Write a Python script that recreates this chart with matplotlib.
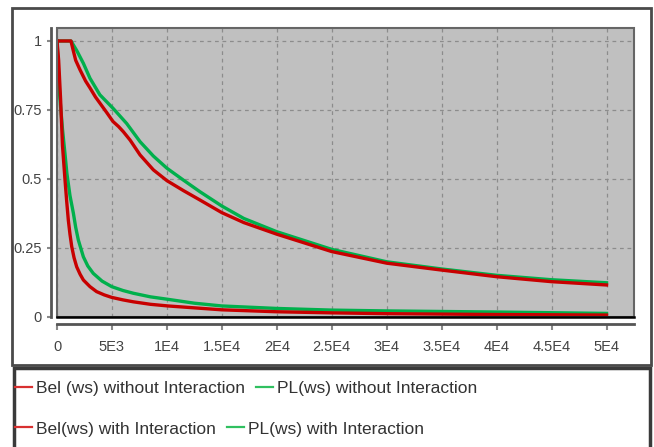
import matplotlib
matplotlib.use("Agg")
import matplotlib.pyplot as plt
from matplotlib.patches import Rectangle
from matplotlib.lines import Line2D

# ---- data ----
bel_wo_x = [0, 1270, 1450, 1700, 2100, 2600, 3000, 3500, 3900, 4500, 5100, 5600, 6040, 6650, 7560, 8770, 10000, 11500, 13000, 15000, 17000, 20000, 25000, 30000, 35000, 40000, 45000, 50000]
bel_wo_y = [1, 1, 0.97, 0.93, 0.895, 0.855, 0.83, 0.797, 0.775, 0.742, 0.708, 0.69, 0.671, 0.641, 0.587, 0.533, 0.494, 0.458, 0.424, 0.378, 0.342, 0.300, 0.237, 0.195, 0.170, 0.146, 0.128, 0.116]

pl_wo_x = [0, 1270, 1500, 1800, 2400, 3000, 3900, 5100, 6340, 7560, 8770, 10000, 11500, 13000, 15000, 17000, 20000, 25000, 30000, 35000, 40000, 45000, 50000]
pl_wo_y = [1, 1, 0.985, 0.965, 0.919, 0.865, 0.805, 0.756, 0.701, 0.635, 0.583, 0.539, 0.496, 0.454, 0.402, 0.357, 0.309, 0.245, 0.200, 0.174, 0.151, 0.135, 0.124]

bel_w_x = [0, 150, 330, 500, 730, 880, 1030, 1180, 1340, 1550, 1790, 2100, 2400, 3000, 3600, 4300, 4980, 6000, 6950, 8500, 10100, 15000, 20000, 25000, 30000, 40000, 50000]
bel_w_y = [1, 0.93, 0.786, 0.62, 0.496, 0.42, 0.351, 0.30, 0.255, 0.215, 0.182, 0.155, 0.134, 0.110, 0.092, 0.080, 0.071, 0.062, 0.055, 0.046, 0.040, 0.026, 0.019, 0.015, 0.012, 0.009, 0.007]

pl_w_x = [0, 250, 500, 730, 900, 1180, 1490, 1700, 1940, 2400, 2800, 3300, 4100, 4980, 6000, 6950, 8500, 10100, 12500, 15000, 20000, 25000, 30000, 40000, 50000]
pl_w_y = [1, 0.80, 0.68, 0.59, 0.52, 0.44, 0.376, 0.325, 0.279, 0.218, 0.185, 0.158, 0.130, 0.110, 0.096, 0.086, 0.073, 0.064, 0.050, 0.040, 0.031, 0.025, 0.022, 0.018, 0.013]

x_ticks = [0, 5000, 10000, 15000, 20000, 25000, 30000, 35000, 40000, 45000, 50000]
x_tick_labels = ["0", "5E3", "1E4", "1.5E4", "2E4", "2.5E4", "3E4", "3.5E4", "4E4", "4.5E4", "5E4"]
y_ticks = [0, 0.25, 0.5, 0.75, 1]
y_tick_labels = ["0", "0.25", "0.5", "0.75", "1"]

labels = ["Bel (ws) without Interaction", "PL(ws) without Interaction",
          "Bel(ws) with Interaction", "PL(ws) with Interaction"]

RED = "#C80000"
GREEN = "#00B04C"
FONT = ["Liberation Sans", "DejaVu Sans"]
plt.rcParams["font.family"] = FONT

W, H = 654, 447
fig = plt.figure(figsize=(W / 100, H / 100), dpi=100)
fig.patch.set_facecolor("white")

def fx(px):
    return px / W

def fy(py):
    return 1 - py / H

# outer chart panel frame
fig.add_artist(Rectangle((fx(12), fy(365)), fx(651) - fx(12), fy(8) - fy(365),
                         transform=fig.transFigure, fill=False, edgecolor="#4a4a4a", lw=2))
# legend frame
fig.add_artist(Rectangle((fx(14), fy(449)), fx(650) - fx(14), fy(368) - fy(449),
                         transform=fig.transFigure, fill=False, edgecolor="#3a3a3a", lw=2.5))

ax = fig.add_axes([fx(57), fy(317), fx(634) - fx(57), fy(28) - fy(317)])
ax.set_facecolor("#C0C0C0")
ax.set_xlim(0, 52500)
ax.set_ylim(0, 1.047)

lw = 2.4
ax.plot(bel_wo_x, bel_wo_y, color=RED, lw=lw, zorder=4)
ax.plot(pl_wo_x, pl_wo_y, color=GREEN, lw=lw, zorder=3)
ax.plot(bel_w_x, bel_w_y, color=RED, lw=lw, zorder=4)
ax.plot(pl_w_x, pl_w_y, color=GREEN, lw=lw, zorder=3)

ax.set_xticks(x_ticks)
ax.set_xticklabels(x_tick_labels)
ax.set_yticks(y_ticks)
ax.set_yticklabels(y_tick_labels)
ax.grid(True, color="#8c8c8c", linestyle=(0, (3, 3)), lw=0.9)
ax.set_axisbelow(True)

ax.tick_params(axis="both", labelsize=10.5, labelcolor="#444444", labelfontfamily="Liberation Sans")
ax.tick_params(axis="x", direction="out", length=4, width=1.5, color="#888888", pad=7.5)
ax.tick_params(axis="y", direction="out", length=3, width=1.5, color="#888888", pad=4)

ax.spines["top"].set_visible(False)
ax.spines["right"].set_visible(False)
ax.spines["left"].set_position(("outward", 4))
ax.spines["bottom"].set_position(("outward", 5))
ax.spines["left"].set_color("#555555")
ax.spines["bottom"].set_color("#555555")
ax.spines["left"].set_linewidth(2)
ax.spines["bottom"].set_linewidth(2)

# plot area border
ax.add_artist(Rectangle((0, 0), 1, 1, transform=ax.transAxes, fill=False,
                        edgecolor="#666666", lw=1.5, zorder=5, clip_on=False))
ax.add_artist(Line2D([0, 1], [0, 0], transform=ax.transAxes, color="black",
                     lw=1.8, zorder=6, clip_on=False))

leg_kw = dict(ncol=2, frameon=False, borderpad=0, borderaxespad=0,
              handlelength=1.0, handletextpad=0.2, columnspacing=0.65,
              prop={"family": FONT, "size": 12.5}, loc="center left")
h1 = Line2D([], [], color="#D83030", lw=1.6)
h2 = Line2D([], [], color="#30C060", lw=1.6)
leg1 = fig.legend([h1, h2], labels[:2], bbox_to_anchor=(fx(15), fy(388)), **leg_kw)
for t in leg1.get_texts():
    t.set_color("#333333")
leg2 = fig.legend([h1, h2], labels[2:], bbox_to_anchor=(fx(15), fy(429)), **leg_kw)
for t in leg2.get_texts():
    t.set_color("#333333")

fig.savefig("out.png", dpi=100)
